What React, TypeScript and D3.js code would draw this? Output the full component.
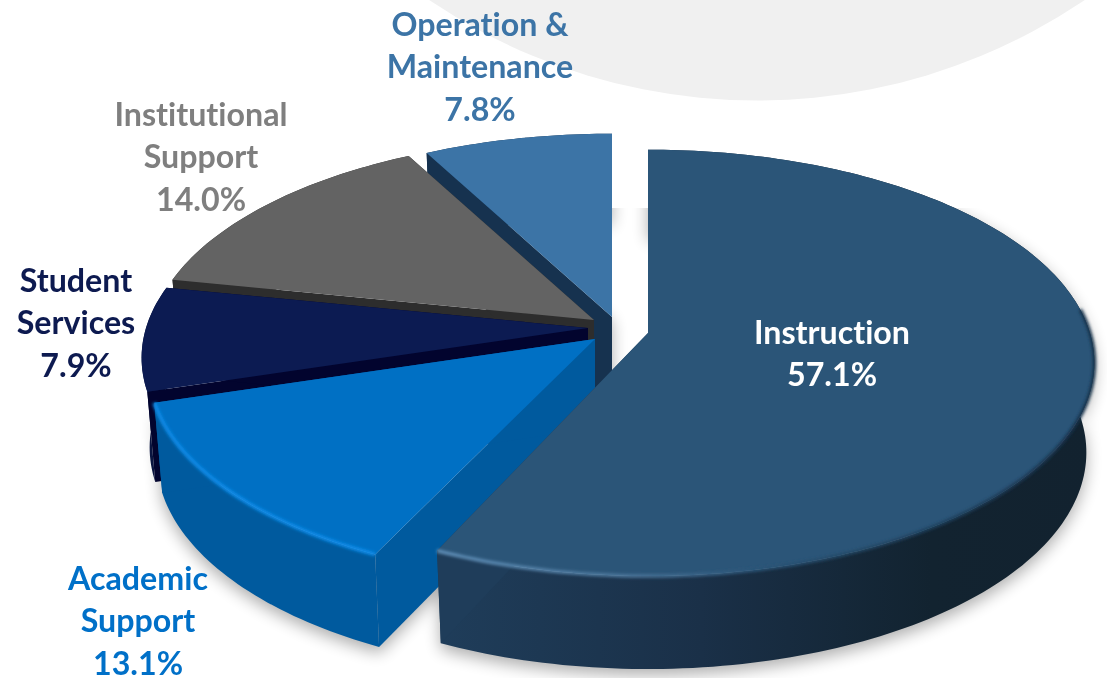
import React from "react";
import * as d3 from "d3";

const categories = ["Instruction", "Academic Support", "Student Services", "Institutional Support", "Operation & Maintenance"];
const shares = [57.1, 13.1, 7.9, 14.0, 7.8];
const labelLines = [
  ["Instruction", "57.1%"],
  ["Academic", "Support", "13.1%"],
  ["Student", "Services", "7.9%"],
  ["Institutional", "Support", "14.0%"],
  ["Operation &", "Maintenance", "7.8%"],
];
const topColors = ["#2b5578", "#0070c4", "#0c1b52", "#636363", "#3c74a6"];
const wallColors = ["url(#wallInstruction)", "#005a9e", "#0a1540", "#2d2d2d", "#16324f"];
const cutColors = ["#1f3d5a", "#005a9e", "#02042e", "#2d2d2d", "#16324f"];
const labelColors = ["#ffffff", "#0070c8", "#0d1a50", "#7f7f7f", "#3c74a6"];
const apexX = [648, 595, 588, 594, 612];
const apexY = [333, 339, 328, 320, 317];
const endTrim = [0.02, 0, 0, 0, 0];
const labelX = [832, 138, 76, 201, 480];
const labelY = [344, 590, 292, 126, 36];

const W = 1107;
const H = 678;
const persp = 0.14;
const depth = 89;
const sx = d3.scaleLinear().domain([0, 1]).range([0, 442]);
const sy = d3.scaleLinear().domain([0, 1]).range([0, 209]);

type P = [number, number];
function topPoint(theta: number, ax: number, ay: number): P {
  const X = Math.sin(theta);
  const Y = -Math.cos(theta);
  const w = 1 - persp * Y;
  return [ax + sx(X / w), ay + sy(Y / w)];
}
function bottomPoint(theta: number, ax: number, ay: number): P {
  const [x, y] = topPoint(theta, ax, ay);
  const Y = -Math.cos(theta);
  return [ax + (x - ax) * 0.982, y + depth + 4 * Y];
}

const slices = d3.pie<number>().sort(null).value((d) => d)(shares);
const line = d3.line<P>();

function arcAngles(a0: number, a1: number) {
  const n = Math.max(8, Math.ceil((a1 - a0) / 0.02));
  return d3.range(n + 1).map((i) => a0 + ((a1 - a0) * i) / n);
}

export default function App() {
  const parts = slices.map((s, i) => {
    const ax = apexX[i];
    const ay = apexY[i];
    const angles = arcAngles(s.startAngle, s.endAngle - endTrim[i]);
    const topArc = angles.map((t) => topPoint(t, ax, ay));
    const botArc = angles.map((t) => bottomPoint(t, ax, ay));
    const apexTop: P = [ax, ay];
    const apexBot: P = [ax, ay + depth];
    const top = line([apexTop, ...topArc])! + "Z";
    const wall = line([...topArc, ...botArc.slice().reverse()])! + "Z";
    const silhouette = line([apexTop, ...topArc, ...botArc.slice().reverse(), apexBot])! + "Z";
    const cutA = line([apexTop, topArc[0], botArc[0], apexBot])! + "Z";
    const n = topArc.length - 1;
    const cutB = line([apexTop, topArc[n], botArc[n], apexBot])! + "Z";
    const rimFront = line(angles.filter((t) => Math.cos(t) < 0.12).map((t) => topPoint(t, ax, ay))) ?? "";
    return { i, top, wall, silhouette, cutA, cutB, rimFront };
  });
  const drawOrder = [4, 3, 2, 1, 0];

  return (
    <svg
      width={W}
      height={H}
      viewBox={`0 0 ${W} ${H}`}
      style={{ position: "absolute", left: 0, top: 0, display: "block", background: "#fff" }}
    >
      <defs>
        <linearGradient id="wallInstruction" gradientUnits="userSpaceOnUse" x1="438" x2="1095" y1="0" y2="0">
          <stop offset="0" stopColor="#1f3d5a" />
          <stop offset="0.4" stopColor="#1a3048" />
          <stop offset="0.75" stopColor="#122330" />
          <stop offset="1" stopColor="#12222f" />
        </linearGradient>
        <linearGradient id="rimInstruction" gradientUnits="userSpaceOnUse" x1="438" x2="1095" y1="0" y2="0">
          <stop offset="0" stopColor="#5f8fb8" />
          <stop offset="0.3" stopColor="#4a7498" />
          <stop offset="0.48" stopColor="#2b5578" />
          <stop offset="0.62" stopColor="#234866" />
          <stop offset="1" stopColor="#16304a" />
        </linearGradient>
        <filter id="soft" x="-10%" y="-10%" width="120%" height="120%">
          <feGaussianBlur stdDeviation="1.6" />
        </filter>
        <filter id="shadow" x="-10%" y="-10%" width="120%" height="120%">
          <feGaussianBlur stdDeviation="8" />
        </filter>
        <clipPath id="shadowClip">
          <rect x={0} y={208} width={W} height={H - 208} />
        </clipPath>
      </defs>

      <circle cx={757} cy={-484} r={584.6} fill="#f0f0f0" />

      <g clipPath="url(#shadowClip)">
        <g filter="url(#shadow)" opacity={0.32}>
          {[0, 1, 4].map((i) => (
            <path key={i} d={parts[i].silhouette} fill="#000" transform="translate(0,6)" />
          ))}
        </g>
      </g>

      {drawOrder.map((i) => {
        const p = parts[i];
        return (
          <g key={categories[i]}>
            <path d={p.wall} fill={wallColors[i]} />
            <path d={p.cutA} fill={cutColors[i]} />
            <path d={p.cutB} fill={cutColors[i]} />
            <path d={p.top} fill={topColors[i]} />
            {i === 0 && <path d={p.rimFront} fill="none" stroke="url(#rimInstruction)" strokeWidth={3.5} filter="url(#soft)" />}
            {i === 1 && <path d={p.rimFront} fill="none" stroke="#0f8ae6" strokeWidth={4} filter="url(#soft)" />}
          </g>
        );
      })}

      {labelLines.map((lines, i) => (
        <text
          key={categories[i]}
          x={labelX[i]}
          y={labelY[i]}
          textAnchor="middle"
          fontFamily="Lato, 'Open Sans', sans-serif"
          fontWeight={700}
          fontSize={32.2}
          fill={labelColors[i]}
          style={{ fontVariantLigatures: "none" }}
        >
          {lines.map((l, j) => (
            <tspan key={j} x={labelX[i]} dy={j === 0 ? 0 : 42.3}>
              {l}
            </tspan>
          ))}
        </text>
      ))}
    </svg>
  );
}
